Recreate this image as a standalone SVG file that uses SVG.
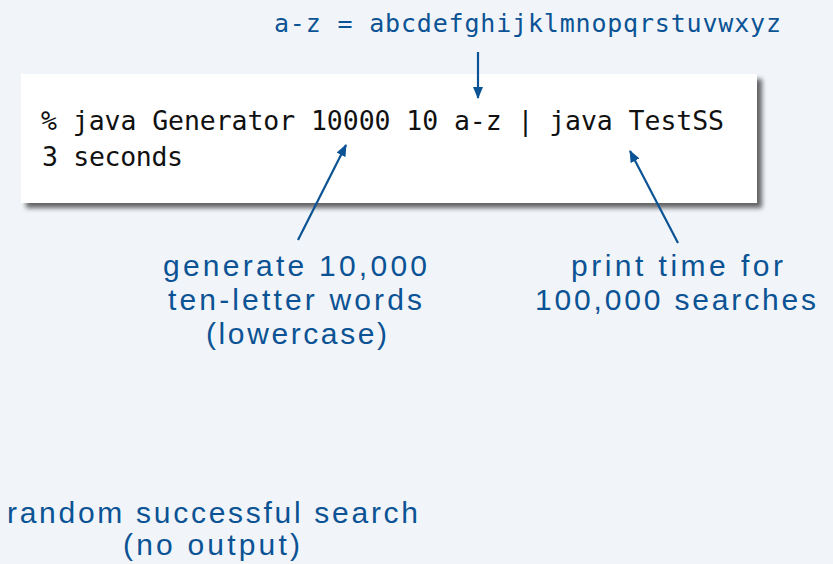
<svg xmlns="http://www.w3.org/2000/svg" width="833" height="564" viewBox="0 0 833 564">
<defs>
<style>
.lbl{font-family:"Liberation Sans","Open Sans",sans-serif;font-size:30px;fill:#0b5394}
.mono{font-family:"DejaVu Sans Mono","Liberation Mono",monospace;font-size:26.5px;fill:#111}
.tmono{font-family:"DejaVu Sans Mono","Liberation Mono",monospace;font-size:25px;fill:#0b5394}
.conn{stroke:#0b5394;stroke-width:2.2;fill:none;marker-end:url(#ah)}
</style>
<marker id="ah" viewBox="0 0 12 10" refX="11" refY="5" markerWidth="12" markerHeight="10" markerUnits="userSpaceOnUse" orient="auto">
<path d="M0,0 L12,5 L0,10 Z" fill="#0b5394"/>
</marker>
<filter id="sh" x="-5%" y="-10%" width="115%" height="130%">
<feGaussianBlur in="SourceAlpha" stdDeviation="2.5"/>
<feOffset dx="5" dy="5" result="b"/>
<feComponentTransfer><feFuncA type="linear" slope="0.6"/></feComponentTransfer>
<feMerge><feMergeNode/><feMergeNode in="SourceGraphic"/></feMerge>
</filter>
</defs>
<rect width="833" height="564" fill="#f1f5f9"/>
<g id="terminal">
<rect x="21" y="74" width="736" height="129" fill="#ffffff" filter="url(#sh)"/>
<text class="mono" x="41" y="130" textLength="683" lengthAdjust="spacing">% java Generator 10000 10 a-z | java TestSS</text>
<text class="mono" x="42" y="166" textLength="141" lengthAdjust="spacing">3 seconds</text>
</g>
<g id="alphabet">
<text class="tmono" x="274" y="32" textLength="507" lengthAdjust="spacing">a-z = abcdefghijklmnopqrstuvwxyz</text>
</g>
<g id="generate">
<text class="lbl" x="163" y="276" textLength="264" lengthAdjust="spacing">generate 10,000</text>
<text class="lbl" x="168" y="310" textLength="254" lengthAdjust="spacing">ten-letter words</text>
<text class="lbl" x="206" y="344" textLength="181" lengthAdjust="spacing">(lowercase)</text>
</g>
<g id="print">
<text class="lbl" x="571" y="276" textLength="212" lengthAdjust="spacing">print time for</text>
<text class="lbl" x="535" y="310" textLength="281" lengthAdjust="spacing">100,000 searches</text>
</g>
<g id="random">
<text class="lbl" x="7" y="523" textLength="411" lengthAdjust="spacing">random successful search</text>
<text class="lbl" x="123" y="555" textLength="177" lengthAdjust="spacing">(no output)</text>
</g>
<g id="connectors">
<line class="conn" x1="478" y1="52" x2="478" y2="98"/>
<line class="conn" x1="298" y1="240" x2="346" y2="145"/>
<line class="conn" x1="678" y1="243" x2="630" y2="151"/>
</g>
</svg>
